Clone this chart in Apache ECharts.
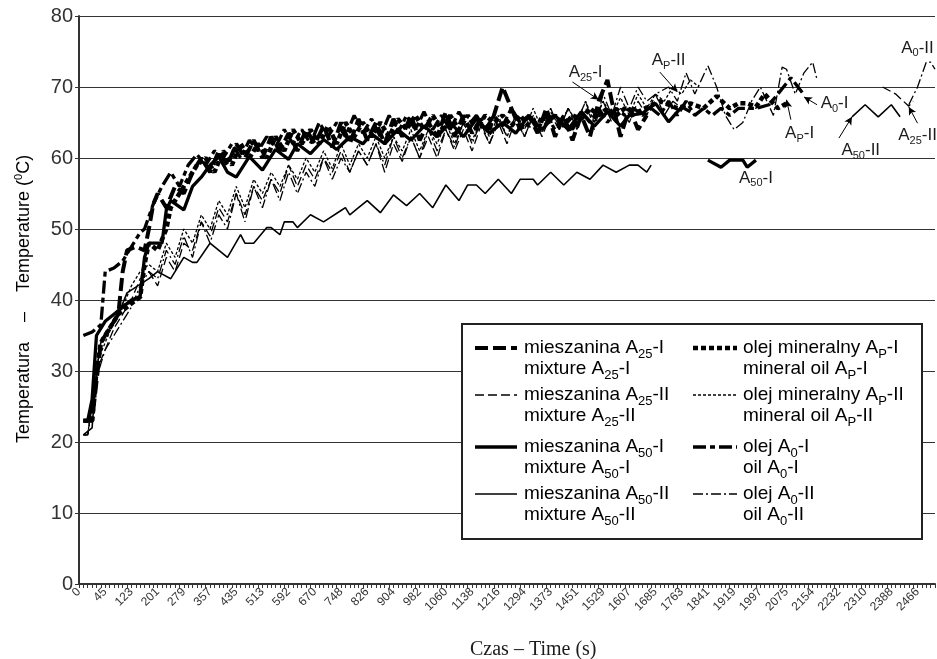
<!DOCTYPE html>
<html><head><meta charset="utf-8">
<script src="https://cdn.jsdelivr.net/npm/echarts@6/dist/echarts.min.js"></script>
<style>html,body{margin:0;padding:0;background:#fff}#c{width:937px;height:659px}</style>
</head><body><div id="c"></div>
<script>
// ---- tick labels of the time axis (one every 6 categories) ----
const tickLabels = ['0','45','123','201','279','357','435','513','592','670','748','826','904','982','1060','1138','1216','1294','1373','1451','1529','1607','1685','1763','1841','1919','1997','2075','2154','2232','2310','2388','2466'];
const catsPerLabel = 6;
const trailingCats = 4;

// ---- series: vertices [category index, temperature °C]; '-' = gap ----
const a25_I = [[1,23],[3,23],[5,34],[7,36],[9,38],[10,44],[11,47],[13,47.5],[15,47],[16,50],[17,53.5],[18,55],[20,53],[22,56],[24,55],[26,58],[28,60],[30,58],[32,61],[34,59],[36,62],[38,60],[40,62.5],[42,60],[44,63],[46,61],[48,63.5],[50,61],[52,64],[54,62],[56,64.5],[58,61.5],[60,65],[62,62],[64,65.5],[66,62.5],[68,65],[70,62],[72,65.5],[74,63],[76,66],[78,62.5],[80,65],[82,63],[84,66.5],[86,63],[88,66],[90,63.5],[92,65.5],[94,64],[96,68],[97,70],[99,67],[101,64],[103,66],[105,63.5],[107,67],[109,63],[111,66],[113,62.5],[115,66],[117,63],[119,68],[121,71],[122,68],[124,63],[126,67],[128,64],[130,66]];
const a25_II = [[1,21],[2,21],[4,30],[6,33],[8,36],[10,38],[12,40],[14,43],[16,44],[18,42],[20,46],[22,44],[24,48],[26,47],[28,51],[30,49],[32,53],[34,51],[36,55],[38,52],[40,56],[42,54],[44,57],[46,55],[48,59],[50,56],[52,59],[54,57],[56,60],[58,58],[60,61],[62,58],[64,61],[66,59],[68,62],[70,58],[72,62],[74,59.5],[76,63],[78,60],[80,63],[82,60],[84,64],[86,61],[88,64],[90,61],[92,64.5],[94,62],[96,65],[98,62],[100,65.5],[102,63],[104,66],[106,63],[108,66],[110,64],[112,67],[114,64],[116,67],[118,65],[120,68],[122,65],[124,67],[126,65],[128,68],[130,66],[132,69],[134,66],[136,68],[138,67],[139,'-'],[184,70],[187,69],[190,67.3],[191,68]];
const a50_I = [[1,23],[2,23],[3,26],[4,35],[6,37],[8,38],[10,39],[12,40],[14,40.5],[15,46],[16,48],[19,48],[20,52.7],[21,54],[24,52.7],[26,56],[28,57.3],[30,59],[32,60.2],[34,58],[36,57.3],[39,60.2],[42,58.3],[45,61.2],[48,59.8],[50,62],[53,60.6],[56,62.6],[59,61.2],[62,63],[65,62],[67,63.4],[70,62],[73,64],[76,62.5],[79,64.5],[82,63],[85,65],[88,63],[91,65.5],[94,63.5],[97,65],[100,63.5],[103,66],[106,64],[109,66],[112,64],[115,66.5],[118,64.5],[121,66.5],[124,64.5],[126,66],[129,66.3],[132,67.7],[135,65.1],[138,67.2],[140,66.5],[141,'-'],[144,59.7],[147,58.7],[149,59.7],[152,59.7],[153,58.7],[155,59.7]];
const a50_II = [[1,21],[3,22],[4,30],[5,34],[7,36],[9,38],[11,41],[16,43],[18,44],[21,43],[24,46],[26,45.3],[27,45.3],[30,48],[34,46],[37,49.2],[38,48],[40,48],[43,50.2],[44,50.2],[46,49.2],[47,51],[49,51],[50,50.2],[53,52],[56,51],[60,52.6],[61,53],[62,52],[64,53],[66,54],[69,52.3],[72,54.8],[75,53.3],[78,55],[81,53],[84,56.2],[87,54],[89,56.2],[91,56.2],[93,55],[96,57],[99,55],[101,57],[104,57],[105,56.2],[108,58],[111,56.2],[114,58],[117,57],[120,59],[123,58],[126,59],[128,59],[130,58],[131,59],[132,'-'],[177,65.8],[180,67.5],[183,65.8],[186,67.5],[188,65.8]];
const aP_I = [[1,23],[3,23],[4,30],[5,34],[7,36],[9,38],[11,39],[12,39.5],[13,40],[14,40.4],[15,45],[16,48],[18,47],[20,50],[21,53],[23,55],[25,57],[27,59],[29,60],[31,58],[33,61],[35,59],[37,62],[39,60],[41,62],[43,60],[45,63],[47,61],[49,64],[51,62],[53,64],[55,62],[57,64.5],[59,62],[61,65],[63,63],[65,65],[67,63],[69,65],[71,63],[73,65.5],[75,64],[77,66],[79,64],[81,66],[83,64],[85,66],[87,64],[89,66],[91,64],[93,66],[95,65],[97,66],[99,64.5],[101,66],[103,64.5],[105,65.5],[107,65],[109,66],[111,64.5],[113,66],[115,65.5],[117,67],[119,66],[121,67],[123,66],[125,67],[128,66.5],[133,68],[137,67],[140,67.7],[143,67],[146,68.7],[149,67],[151,67.7],[153,67.7],[155,67.2],[157,69],[160,67],[162,67.7]];
const aP_II = [[1,21],[2,21],[4,31],[6,34],[8,37],[10,39],[12,42],[14,44],[16,45],[18,44],[20,48],[22,46],[24,50],[26,48],[28,52],[30,50],[32,54],[34,52],[36,56],[38,53],[40,57],[42,55],[44,58],[46,56],[48,59],[50,57],[52,60],[54,58],[56,61],[58,58.5],[60,62],[62,59],[64,62],[66,60],[68,63],[70,60],[72,63],[74,61],[76,64],[78,61],[80,64],[82,62],[84,65],[86,62],[88,65],[90,62.5],[92,65],[94,63],[96,66],[98,63],[100,66],[102,64],[104,67],[106,64],[108,66.5],[110,64.5],[112,67],[114,65],[116,68],[118,65],[120,68],[122,66],[124,68.5],[126,66],[128,69],[130,67],[132,69],[134,68],[136,70],[138,69],[140,71],[142,70]];
const a0_I = [[1,35],[3,35.5],[5,36.5],[6,44],[8,44.5],[10,45.5],[12,47.5],[14,49.5],[15,50],[17,53.5],[19,56],[21,58],[23,56],[25,59],[27,60.5],[29,59],[31,61],[33,60],[35,62],[37,60],[39,62.5],[41,61],[43,63],[45,61.5],[47,64],[49,62],[51,64],[53,62],[55,65],[57,63],[59,65],[61,63],[63,66],[65,63.5],[67,65.5],[69,63],[71,66],[73,63.5],[75,66],[77,64],[79,66.5],[81,64],[83,66],[85,64],[87,66.5],[89,64.5],[91,66],[93,64],[95,66],[97,64.5],[99,67],[101,65],[103,66],[105,64],[107,66],[109,64],[111,66],[113,64],[115,66.5],[117,65],[119,67],[121,65],[123,67],[125,66],[127,67],[129,66],[131,67],[133,66],[135,68],[137,66],[139,68],[141,66],[143,67],[145,66],[147,67],[149,66],[151,67],[153,67],[155,67],[158,67.5],[160,69],[163,71.3],[166,68.9]];
const a0_II = [[1,21],[2,21],[4,29],[6,33],[8,35],[10,37],[12,39],[14,42],[16,44],[18,43],[20,47],[22,45],[24,49],[26,46],[28,51],[30,48],[32,52],[34,50],[36,55],[38,51],[40,56],[42,53],[44,57],[46,54],[48,58],[50,55],[52,58],[54,56],[56,60],[58,57],[60,60],[62,58],[64,61],[66,59],[68,62],[70,59],[72,63],[74,60],[76,63],[78,60],[80,64],[82,61],[84,64],[86,61.5],[88,65],[90,62],[92,65],[94,62],[96,65.5],[98,63],[100,66],[102,63],[104,66],[106,63.5],[108,67],[110,64],[112,67],[114,65],[116,68],[118,64],[120,69],[122,66],[124,70],[126,67],[128,70],[130,68],[132,69],[135,70],[137,68],[139,72],[141,69],[144,73],[146,70],[148,66],[150,64],[152,65],[154,68],[156,70],[159,66],[161,72.8],[162,72.5],[164,69],[166,72],[168,73.5],[169,71],[170,'-'],[190,67.5],[192,70],[194,73.5],[195,73.5],[196,72.5]];

// ---- annotations (data coordinates) ----
const annoLabels = [
  {t:'{n|A}{s|25}{n|-I}', at:[116,72.1]},
  {t:'{n|A}{s|P}{n|-II}', at:[135,73.8]},
  {t:'{n|A}{s|0}{n|-I}', at:[173,67.7]},
  {t:'{n|A}{s|P}{n|-I}', at:[165,63.5]},
  {t:'{n|A}{s|50}{n|-II}', at:[179,61.1]},
  {t:'{n|A}{s|25}{n|-II}', at:[192,63.2]},
  {t:'{n|A}{s|0}{n|-II}', at:[192,75.5]},
  {t:'{n|A}{s|50}{n|-I}', at:[155,57.2]}
];
const annoArrows = [
  [[113,70.7],[119,68.2]],
  [[133,72.1],[137,69.3]],
  [[169,67.5],[166,68.6]],
  [[163,65.4],[162,68.2]],
  [[174,62.8],[177,65.8]],
  [[192,64.9],[190,67.2]]
];

// ---- build categories from tick labels ----
const categories = [];
const nCats = (tickLabels.length - 1) * catsPerLabel + 1 + trailingCats;
for (let i = 0; i < nCats; i++) categories.push(i % catsPerLabel === 0 && tickLabels[i / catsPerLabel] !== undefined ? tickLabels[i / catsPerLabel] : '');

const INK = '#000';
const TXT = '#1c1c1c';
const SANS = 'Liberation Sans, Arial, sans-serif';
const styles = {
  a25_I:  {width: 4,   type: [13, 5]},
  a25_II: {width: 1.3, type: [9, 4]},
  a50_I:  {width: 3.3, type: 'solid'},
  a50_II: {width: 1.6, type: 'solid'},
  aP_I:   {width: 4.5, type: [5, 3]},
  aP_II:  {width: 1.3, type: [3, 2]},
  a0_I:   {width: 3.3, type: [13, 4, 5, 4]},
  a0_II:  {width: 1.3, type: [10, 3, 2, 3]}
};
const seriesDefs = [
  {key:'a25_I',  name:'mieszanina A25-I',  data:a25_I,  l1:'{n|mieszanina A}{s|25}{n|-I}',  l2:'{n|mixture A}{s|25}{n|-I}',  col:0,row:0},
  {key:'a25_II', name:'mieszanina A25-II', data:a25_II, l1:'{n|mieszanina A}{s|25}{n|-II}', l2:'{n|mixture A}{s|25}{n|-II}', col:0,row:1},
  {key:'a50_I',  name:'mieszanina A50-I',  data:a50_I,  l1:'{n|mieszanina A}{s|50}{n|-I}',  l2:'{n|mixture A}{s|50}{n|-I}',  col:0,row:2},
  {key:'a50_II', name:'mieszanina A50-II', data:a50_II, l1:'{n|mieszanina A}{s|50}{n|-II}', l2:'{n|mixture A}{s|50}{n|-II}', col:0,row:3},
  {key:'aP_I',   name:'olej mineralny AP-I',  data:aP_I,  l1:'{n|olej mineralny A}{s|P}{n|-I}',  l2:'{n|mineral oil A}{s|P}{n|-I}',  col:1,row:0},
  {key:'aP_II',  name:'olej mineralny AP-II', data:aP_II, l1:'{n|olej mineralny A}{s|P}{n|-II}', l2:'{n|mineral oil A}{s|P}{n|-II}', col:1,row:1},
  {key:'a0_I',   name:'olej A0-I',  data:a0_I,  l1:'{n|olej A}{s|0}{n|-I}',  l2:'{n|oil A}{s|0}{n|-I}',  col:1,row:2},
  {key:'a0_II',  name:'olej A0-II', data:a0_II, l1:'{n|olej A}{s|0}{n|-II}', l2:'{n|oil A}{s|0}{n|-II}', col:1,row:3}
];

const subRich = (fs, sfs, lh) => ({
  n: {fontSize: fs, fontFamily: SANS, color: TXT, lineHeight: lh, verticalAlign: 'middle'},
  s: {fontSize: sfs, fontFamily: SANS, color: TXT, lineHeight: sfs, verticalAlign: 'bottom'},
  p: {fontSize: sfs, fontFamily: SANS, color: TXT, lineHeight: sfs, verticalAlign: 'top'}
});

const series = seriesDefs.map((d, idx) => {
  const s = {
    name: d.name, type: 'line', data: d.data, symbol: 'none', smooth: false,
    connectNulls: false, silent: true,
    lineStyle: {color: INK, width: styles[d.key].width, type: styles[d.key].type},
    itemStyle: {color: INK}, z: 3 + idx
  };
  if (d.key === 'a50_II') {
    s.markPoint = {
      symbol: 'circle', symbolSize: 1, silent: true, animation: false,
      itemStyle: {color: 'rgba(0,0,0,0)'},
      label: {show: true, position: 'inside', color: TXT, rich: subRich(17, 11, 22)},
      data: annoLabels.map(a => ({coord: a.at, label: {formatter: a.t}}))
    };
    s.markLine = {
      symbol: ['none', 'arrow'], symbolSize: [6, 8], silent: true, animation: false,
      label: {show: false}, lineStyle: {color: INK, width: 1, type: 'solid'},
      data: annoArrows.map(a => [{coord: a[0]}, {coord: a[1]}])
    };
  }
  return s;
});

// legend (custom, two columns of two-line entries)
const legendBox = {x: 462, y: 324, w: 460, h: 215};
const colX = [{l1: 475, l2: 517, t: 524}, {l1: 693, l2: 737, t: 743}];
const rowY = [348, 395, 447, 494];
const legendEls = [{
  type: 'rect', z: 100, shape: {x: legendBox.x, y: legendBox.y, width: legendBox.w, height: legendBox.h},
  style: {fill: '#fff', stroke: '#222', lineWidth: 2}
}];
seriesDefs.forEach(d => {
  const c = colX[d.col], y = rowY[d.row], st = styles[d.key];
  legendEls.push({type: 'line', z: 101, shape: {x1: c.l1, y1: y, x2: c.l2, y2: y},
    style: {stroke: INK, lineWidth: st.width, lineDash: st.type === 'solid' ? null : st.type}});
  legendEls.push({type: 'text', z: 101, x: c.t, y: y,
    style: {text: d.l1, rich: subRich(19, 13, 26), verticalAlign: 'middle', align: 'left'}});
  legendEls.push({type: 'text', z: 101, x: c.t, y: y + 21,
    style: {text: d.l2, rich: subRich(19, 13, 26), verticalAlign: 'middle', align: 'left'}});
});

const chart = echarts.init(document.getElementById('c'), null, {renderer: 'canvas'});
chart.setOption({
  animation: false,
  backgroundColor: '#fff',
  grid: {left: 79, right: 2, top: 16, bottom: 75, containLabel: false},
  xAxis: {
    type: 'category', data: categories, boundaryGap: false,
    axisLine: {show: true, lineStyle: {color: '#333', width: 2}},
    axisTick: {show: true, interval: 0, length: 4, lineStyle: {color: '#333', width: 1}},
    axisLabel: {interval: catsPerLabel - 1, rotate: 45, fontSize: 12, fontFamily: SANS, color: '#333', margin: 6},
    splitLine: {show: false}
  },
  yAxis: {
    type: 'value', min: 0, max: 80, interval: 10,
    axisLine: {show: true, lineStyle: {color: '#333', width: 2}},
    axisTick: {show: true, length: 4, lineStyle: {color: '#333'}},
    axisLabel: {fontSize: 20, fontFamily: SANS, color: '#333', margin: 6},
    splitLine: {show: true, lineStyle: {color: '#333', width: 1}}
  },
  series: series,
  graphic: [
    {type: 'text', z: 100, x: 24, y: 443, rotation: Math.PI / 2,
     style: {text: '{n|Temperatura    –    Temperature (}{p|0}{n|C)}', rich: subRich(18, 11, 22), align: 'left', verticalAlign: 'middle'}},
    {type: 'text', z: 100, x: 470, y: 650,
     style: {text: 'Czas – Time (s)', font: '20px "Liberation Serif", "Times New Roman", serif', fill: TXT, align: 'left', verticalAlign: 'middle'}}
  ].concat(legendEls)
});
</script>
</body></html>
